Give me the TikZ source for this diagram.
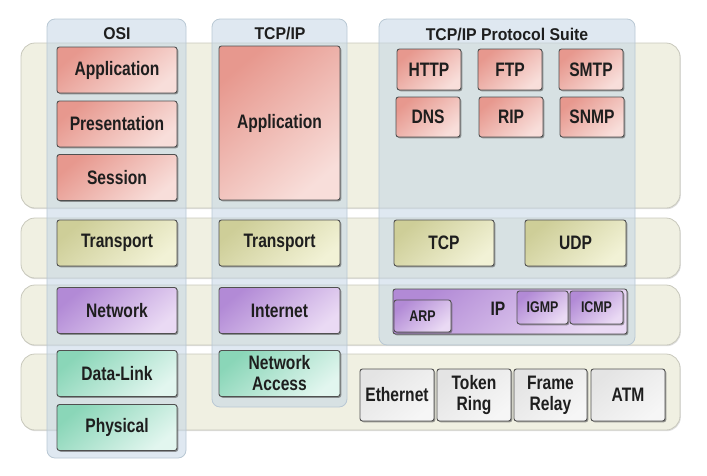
\documentclass[tikz,border=0pt]{standalone}
\usepackage{fontspec}
\setmainfont{Liberation Sans}
\newfontfamily\bodyf{Liberation Sans}[FakeStretch=0.8]
\newfontfamily\headf{Liberation Sans}[FakeStretch=0.93]
\usetikzlibrary{shadows}
\definecolor{txt}{RGB}{30,30,30}
\definecolor{colfill}{RGB}{196,213,229}
\definecolor{colline}{RGB}{185,200,212}
\definecolor{bandfill}{RGB}{240,240,226}
\definecolor{bandline}{RGB}{200,200,188}
\definecolor{boxline}{RGB}{80,80,80}
\definecolor{redA}{RGB}{231,152,142}
\definecolor{redB}{RGB}{248,222,218}
\definecolor{olvA}{RGB}{206,206,152}
\definecolor{olvB}{RGB}{242,242,214}
\definecolor{purA}{RGB}{178,138,214}
\definecolor{purB}{RGB}{234,218,244}
\definecolor{grnA}{RGB}{138,214,184}
\definecolor{grnB}{RGB}{226,246,239}
\definecolor{gryA}{RGB}{228,228,228}
\definecolor{gryB}{RGB}{246,246,246}
\tikzset{
  band/.style={draw=bandline, line width=0.8pt, fill=bandfill, rounded corners=14pt,
    drop shadow={shadow xshift=0.8pt, shadow yshift=-1.2pt, fill=black!25, opacity=0.5}},
  column/.style={draw=colline, line width=0.8pt, fill=colfill, fill opacity=0.55, rounded corners=8pt},
  head/.style={text=txt, font=\headf\bfseries\fontsize{17}{20}\selectfont, inner sep=0pt},
  box/.style={draw=boxline, line width=0.9pt, rounded corners=2.5pt, inner sep=0pt,
    text=txt, align=center, font=\bodyf\bfseries\fontsize{19.5}{22}\selectfont,
    drop shadow={shadow xshift=1.3pt, shadow yshift=-1.3pt, fill=black!70, opacity=0.55}},
  small/.style={font=\bodyf\bfseries\fontsize{15.5}{17}\selectfont},
  redbox/.style={box, top color=redA, bottom color=redB, shading angle=40},
  olvbox/.style={box, top color=olvA, bottom color=olvB, shading angle=40},
  purbox/.style={box, top color=purA, bottom color=purB, shading angle=40},
  grnbox/.style={box, top color=grnA, bottom color=grnB, shading angle=40},
  grybox/.style={box, top color=gryA, bottom color=gryB, shading angle=40},
}
\begin{document}
\begin{tikzpicture}[x=1pt,y=-1pt]
\useasboundingbox (0,0) rectangle (707,475);
% horizontal bands
\node[band, minimum width=659pt, minimum height=165pt] (b1) at (350.5,125.5) {};
\node[band, minimum width=659pt, minimum height=60pt] (b2) at (350.5,248) {};
\node[band, minimum width=659pt, minimum height=60pt] (b3) at (350.5,315) {};
\node[band, minimum width=659pt, minimum height=76pt] (b4) at (350.5,392) {};
% columns
\node[column, minimum width=139pt, minimum height=439pt] (cosi) at (116.5,238.5) {};
\node[column, minimum width=135pt, minimum height=388pt] (ctcp) at (279.5,213) {};
\node[column, minimum width=256pt, minimum height=326pt] (csuite) at (507,182) {};
% headers
\node[head] (hosi) at (117,34) {OSI};
\node[head] (htcp) at (280,34) {TCP/IP};
\node[head] (hsuite) at (507,34.5) {TCP/IP Protocol Suite};
% OSI
\node[redbox, minimum width=120pt, minimum height=46pt] (oapp) at (117,70) {Application};
\node[redbox, minimum width=120pt, minimum height=46pt] (opre) at (117,124) {Presentation};
\node[redbox, minimum width=120pt, minimum height=46pt] (oses) at (117,177.5) {Session};
\node[olvbox, minimum width=120pt, minimum height=46pt] (otra) at (117,243) {Transport};
\node[purbox, minimum width=120pt, minimum height=46pt] (onet) at (117,310.5) {Network};
\node[grnbox, minimum width=120pt, minimum height=46pt] (odl) at (117,373.5) {Data-Link};
\node[grnbox, minimum width=120pt, minimum height=46pt] (ophy) at (117,427.5) {Physical};
% TCP/IP
\node[redbox, minimum width=121pt, minimum height=154pt] (tapp) at (279.5,123) {Application};
\node[olvbox, minimum width=121pt, minimum height=46pt] (ttra) at (279.5,243) {Transport};
\node[purbox, minimum width=121pt, minimum height=46pt] (tint) at (279.5,310.5) {Internet};
\node[grnbox, minimum width=121pt, minimum height=46pt] (tna) at (279.5,373.5) {Network\\[-1pt]Access};
% Suite application protocols
\node[redbox, minimum width=64pt, minimum height=41pt] (http) at (429,69.5) {HTTP};
\node[redbox, minimum width=64pt, minimum height=41pt] (ftp) at (510,69.5) {FTP};
\node[redbox, minimum width=64pt, minimum height=41pt] (smtp) at (591,69.5) {SMTP};
\node[redbox, minimum width=64pt, minimum height=40pt] (dns) at (428,117) {DNS};
\node[redbox, minimum width=64pt, minimum height=40pt] (rip) at (511,117) {RIP};
\node[redbox, minimum width=64pt, minimum height=40pt] (snmp) at (592,117) {SNMP};
% transport
\node[olvbox, minimum width=100pt, minimum height=46pt] (tcp) at (444,243) {TCP};
\node[olvbox, minimum width=101pt, minimum height=46pt] (udp) at (575.5,243) {UDP};
% internet
\node[purbox, minimum width=234pt, minimum height=45pt] (ip) at (510,311.5) {};
\node[text=txt, font=\bodyf\bfseries\fontsize{19.5}{22}\selectfont, inner sep=0pt] (iplbl) at (498,308.5) {IP};
\node[purbox, small, minimum width=57pt, minimum height=32pt] (arp) at (422.5,316) {ARP};
\node[purbox, small, minimum width=51pt, minimum height=33pt] (igmp) at (542.5,307.5) {IGMP};
\node[purbox, small, minimum width=53pt, minimum height=33pt] (icmp) at (596.5,307.5) {ICMP};
% link
\node[grybox, minimum width=74pt, minimum height=52pt] (eth) at (397,395) {Ethernet};
\node[grybox, minimum width=74pt, minimum height=52pt] (tok) at (474,395) {Token\\[-1pt]Ring};
\node[grybox, minimum width=73pt, minimum height=52pt] (fr) at (550.5,395) {Frame\\[-1pt]Relay};
\node[grybox, minimum width=74pt, minimum height=52pt] (atm) at (628,395) {ATM};
\end{tikzpicture}
\end{document}
